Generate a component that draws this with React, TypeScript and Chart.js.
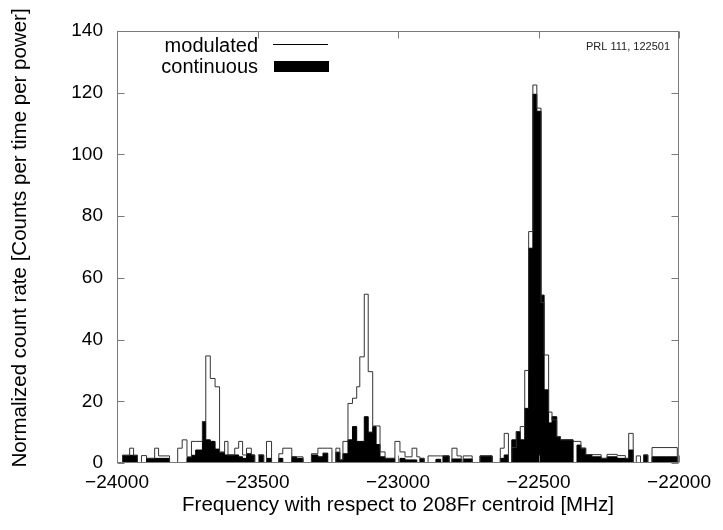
import { useEffect, useRef } from 'react';
import { Chart, registerables } from 'chart.js';

Chart.register(...registerables);

// Left edges of histogram bins [MHz]; each value holds until the next edge.
const binEdgesMHz = [
  -24000, -23980, -23955, -23941, -23927, -23913, -23895, -23866, -23852, -23813,
  -23784, -23768, -23751, -23735, -23720, -23696, -23684, -23668, -23651, -23635,
  -23617, -23605, -23581, -23567, -23553, -23539, -23522, -23510, -23496, -23478,
  -23468, -23450, -23424, -23410, -23378, -23361, -23338, -23308, -23285, -23267,
  -23250, -23235, -23221, -23207, -23196, -23178, -23162, -23147, -23136, -23120,
  -23106, -23090, -23078, -23064, -23046, -23011, -22993, -22975, -22950, -22933,
  -22922, -22907, -22893, -22865, -22848, -22840, -22818, -22808, -22790, -22775,
  -22768, -22736, -22708, -22665, -22636, -22622, -22607, -22595, -22579, -22565,
  -22549, -22535, -22520, -22506, -22491, -22480, -22464, -22452, -22435, -22422,
  -22377, -22363, -22349, -22332, -22310, -22277, -22256, -22220, -22191, -22179,
  -22163, -22152, -22137, -22126, -22111, -22096, -22006,
];
const lastEdgeMHz = -22000;

const modulatedRate = [
  0, 2.5, 4.8, 2.5, 0, 2.4, 1.5, 4.8, 2.3, 0,
  4.8, 7.5, 2, 7, 7, 13.4, 34.7, 27.4, 24.7, 3.5,
  7, 2.6, 4.8, 7, 2.6, 4.8, 2.6, 0, 2.6, 0,
  7, 0, 3, 4.8, 2, 2, 0, 3, 4.8, 4.8,
  4.8, 0, 4.8, 1, 7, 19.3, 21, 24.7, 34.4, 54.7,
  29.6, 12, 12, 3.6, 1.5, 7, 3.6, 2, 4.8, 2,
  1.5, 0, 2.3, 2.3, 2.3, 2.3, 0, 4.8, 2.3, 0,
  2.3, 0, 2.3, 0, 4.8, 9.6, 0, 5, 10.2, 11.8,
  30, 75, 122.5, 115, 52, 35, 16.5, 14, 8.5, 7.5,
  7, 7, 4.8, 2.7, 2.7, 1.5, 2.8, 2.4, 1.5, 9.6,
  0, 2.3, 0, 2.6, 0, 5, 0,
];

const continuousRate = [
  0, 2.5, 2.5, 2.5, 0, 0, 1.5, 1.5, 1.5, 0,
  0, 0, 1.8, 2.5, 4.2, 13.4, 7.5, 7, 4.5, 3.5,
  2.6, 2.6, 2.6, 2, 1.5, 3, 2.6, 0, 2.6, 0,
  1.5, 0, 1.5, 0, 2, 1.5, 0, 2.6, 2, 3.2,
  0, 0, 3.5, 1, 3, 7.5, 11.8, 7, 7, 15,
  10, 11.8, 6, 2, 1.5, 0, 1.5, 1, 1, 0,
  1.5, 0, 0, 1.2, 0, 2.3, 0, 1.3, 1.3, 0,
  1.3, 0, 2.3, 0, 1.5, 2.6, 0, 7.5, 10.2, 7.5,
  17.7, 69.6, 119.5, 114, 54.4, 23.7, 13, 15, 8.5, 7.5,
  0, 5.8, 4.8, 2.7, 2, 1.5, 2, 1.5, 1.5, 4.2,
  0, 0, 0, 2.6, 0, 2, 0,
];

const xMin = -24000;
const xMax = -22000;
const xStep = 500;
const yMin = 0;
const yMax = 140;
const yStep = 20;

const seriesLabels = ['modulated', 'continuous'];
const xTitle = 'Frequency with respect to 208Fr centroid [MHz]';
const yTitle = 'Normalized count rate [Counts per time per power]';
const refNote = 'PRL 111, 122501';

const FONT = "'Liberation Sans', Arial, Helvetica, sans-serif";

function toPoints(values: number[]) {
  const pts = binEdgesMHz.map((x, i) => ({ x, y: values[i] }));
  pts.push({ x: lastEdgeMHz, y: 0 });
  return pts;
}

const framePlugin = {
  id: 'gnuplotFrame',
  afterDatasetsDraw(chart: any) {
    const { ctx, chartArea: a, scales } = chart;
    const xs = scales.x;
    const ys = scales.y;
    ctx.save();
    ctx.strokeStyle = '#7a7a7a';
    ctx.lineWidth = 1;
    const L = Math.round(a.left) + 0.5;
    const R = Math.round(a.right) - 0.5;
    const T = Math.round(a.top) + 0.5;
    const B = Math.round(a.bottom) - 0.5;
    ctx.strokeRect(L, T, R - L, B - T);
    const tl = 7;
    ctx.beginPath();
    ys.ticks.forEach((t: any) => {
      const p = Math.round(ys.getPixelForValue(t.value)) + 0.5;
      ctx.moveTo(L, p); ctx.lineTo(L + tl, p);
      ctx.moveTo(R, p); ctx.lineTo(R - tl, p);
    });
    xs.ticks.forEach((t: any) => {
      const p = Math.round(xs.getPixelForValue(t.value)) + 0.5;
      ctx.moveTo(p, B); ctx.lineTo(p, B - tl);
      ctx.moveTo(p, T); ctx.lineTo(p, T + tl);
    });
    ctx.stroke();
    ctx.restore();
  },
  afterDraw(chart: any) {
    const { ctx, chartArea: a } = chart;
    ctx.save();
    // y-axis title
    ctx.fillStyle = '#000';
    ctx.font = `20.5px ${FONT}`;
    ctx.textAlign = 'center';
    ctx.textBaseline = 'middle';
    ctx.save();
    ctx.translate(20, (a.top + a.bottom) / 2 - 9);
    ctx.rotate(-Math.PI / 2);
    ctx.fillText(yTitle, 0, 0);
    ctx.restore();
    // legend
    ctx.font = `20px ${FONT}`;
    ctx.textAlign = 'right';
    ctx.textBaseline = 'alphabetic';
    const textRight = a.left + 141;
    ctx.fillText(seriesLabels[0], textRight, a.top + 20.5);
    ctx.fillText(seriesLabels[1], textRight, a.top + 42);
    ctx.strokeStyle = '#000';
    ctx.lineWidth = 1;
    ctx.beginPath();
    ctx.moveTo(a.left + 156, a.top + 13.5);
    ctx.lineTo(a.left + 211, a.top + 13.5);
    ctx.stroke();
    ctx.fillRect(a.left + 157, a.top + 30, 55, 11);
    // reference note
    ctx.font = `11px ${FONT}`;
    ctx.fillStyle = '#222';
    ctx.textAlign = 'right';
    ctx.textBaseline = 'middle';
    ctx.fillText(refNote, a.right - 9, a.top + 16);
    ctx.restore();
  },
};

export default function App() {
  const canvasRef = useRef<HTMLCanvasElement | null>(null);

  useEffect(() => {
    const canvas = canvasRef.current;
    if (!canvas) return;
    const tickFont = { family: FONT, size: 19 };
    const titleFont = { family: FONT, size: 20.5 };
    const chart = new Chart(canvas, {
      type: 'line',
      data: {
        datasets: [
          {
            label: seriesLabels[0],
            data: toPoints(modulatedRate),
            stepped: 'before',
            borderColor: '#333',
            borderWidth: 1,
            fill: false,
            pointRadius: 0,
          },
          {
            label: seriesLabels[1],
            data: toPoints(continuousRate),
            stepped: 'before',
            borderColor: '#000',
            backgroundColor: '#000',
            borderWidth: 1,
            fill: 'origin',
            pointRadius: 0,
          },
        ],
      },
      options: {
        animation: false,
        responsive: false,
        parsing: false as any,
        layout: { padding: { top: 31, right: 44, bottom: 0, left: 0 } },
        plugins: {
          legend: { display: false },
          tooltip: { enabled: false },
          title: { display: false },
        },
        scales: {
          x: {
            type: 'linear',
            min: xMin,
            max: xMax,
            afterFit: (s: any) => { s.height = 67; },
            grid: { display: false, drawTicks: false },
            border: { display: false },
            ticks: {
              stepSize: xStep,
              padding: 8,
              color: '#000',
              font: tickFont,
              maxRotation: 0,
              callback: (v: any) => String(v).replace('-', '\u2212'),
            },
            title: {
              display: true,
              text: xTitle,
              color: '#000',
              font: titleFont,
              padding: { top: 0, bottom: 12.5 },
            },
          },
          y: {
            type: 'linear',
            min: yMin,
            max: yMax,
            afterFit: (s: any) => { s.width = 117; },
            grid: { display: false, drawTicks: false },
            border: { display: false },
            ticks: {
              stepSize: yStep,
              padding: 14,
              color: '#000',
              font: tickFont,
            },
            title: { display: false },
          },
        },
      },
      plugins: [framePlugin],
    });
    return () => chart.destroy();
  }, []);

  return (
    <div style={{ position: 'absolute', left: 0, top: 0, width: 723, height: 530, background: '#fff' }}>
      <canvas ref={canvasRef} width={723} height={530} />
    </div>
  );
}
